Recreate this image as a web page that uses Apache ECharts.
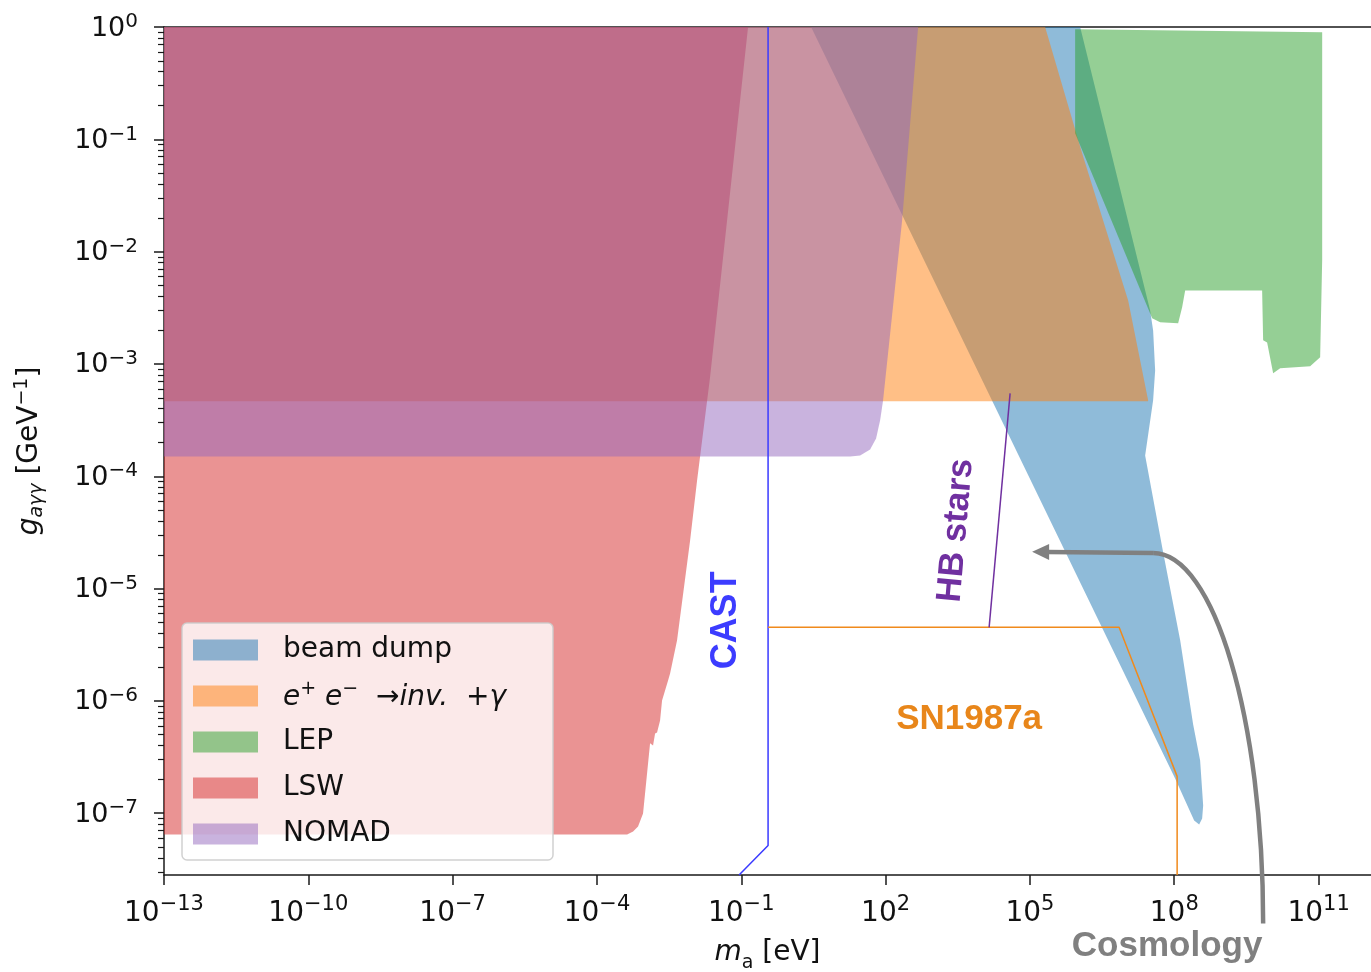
<!DOCTYPE html>
<html>
<head>
<meta charset="utf-8">
<script src="https://cdn.jsdelivr.net/npm/echarts@6/dist/echarts.min.js"></script>
<style>
html,body{margin:0;padding:0;background:#fff;}
#c{width:1371px;height:972px;}
</style>
</head>
<body>
<div id="c"></div>
<script>
// All values are log10: mass m_a in eV, coupling g in GeV^-1
const xTickExp = [-13, -10, -7, -4, -1, 2, 5, 8, 11];
const yTickExp = [-7, -6, -5, -4, -3, -2, -1, 0];
const yMinorMantissa = [2, 3, 4, 5, 6, 7, 8, 9];
const yMinorDecades = [-8, -7, -6, -5, -4, -3, -2, -1];

const beamDumpLogM = [0.451, 6.044, 7.499, 7.561, 7.603, 7.561, 7.395, 7.769, 8.123, 8.393, 8.538, 8.601, 8.58, 8.518, 8.414, 8.019];
const beamDumpLogG = [0, 0, -2.523, -2.703, -3.059, -3.324, -3.814, -4.677, -5.461, -6.209, -6.53, -6.931, -7.047, -7.1, -7.064, -6.69];

const eeLogM = [-13, 5.316, 6.085, 7.042, 7.457, 7.457, -13];
const eeLogG = [0, 0, -1.125, -2.434, -3.324, -3.333, -3.333];

const lepLogM = [5.94, 11.075, 11.075, 11.033, 10.825, 10.202, 10.056, 9.931, 9.848, 9.827, 8.227, 8.164, 8.081, 7.707, 7.541, 5.94];
const lepLogG = [-0.02, -0.047, -2.077, -2.941, -3.021, -3.039, -3.083, -2.808, -2.79, -2.345, -2.345, -2.496, -2.638, -2.629, -2.594, -0.947];

const lswLogM = [-13, -0.859, -1.649, -1.919, -2.064, -2.335, -2.48, -2.522, -2.647, -2.688, -2.751, -2.792, -2.834, -2.896, -2.938, -3.042, -3.146, -3.249, -3.374, -13];
const lswLogG = [0, 0, -3.119, -4.037, -4.571, -5.461, -5.755, -5.818, -5.996, -6.174, -6.281, -6.29, -6.396, -6.378, -6.557, -7.002, -7.118, -7.162, -7.189, -7.189];

const nomadLogM = [-13, 2.676, 2.343, 1.948, 1.886, 1.802, 1.678, 1.47, 1.262, -13];
const nomadLogG = [0, 0, -1.723, -3.324, -3.502, -3.663, -3.761, -3.814, -3.823, -3.823];

const castLogM = [-0.443, -0.443, -1.046];
const castLogG = [0, -7.287, -7.55];
const snLogM = [-0.443, 6.854, 8.06, 8.06];
const snLogG = [-5.345, -5.345, -6.672, -7.55];
const hbLogM = [4.588, 4.152];
const hbLogG = [-3.262, -5.345];
// Cosmology arrow: curved part (start, control 1, control 2, corner), straight run to the head, head tip
const cosmoCurveLogM = [9.848, 9.848, 8.83, 7.561];
const cosmoCurveLogG = [-7.981, -6.165, -4.684, -4.684];
const cosmoRunLogM = [7.561, 5.358];
const cosmoRunLogG = [-4.684, -4.675];
const cosmoTip = [5.046, -4.672];

const labelTexts = ['CAST', 'HB stars', 'SN1987a', 'Cosmology'];
const labelLogM = [-1.316, 3.466, 3.736, 7.852];
const labelLogG = [-5.283, -4.482, -6.165, -8.186];

const seriesNames = ['beam dump', 'e+e- -> inv. + gamma', 'LEP', 'LSW', 'NOMAD'];

// ---------- styling ----------
const X_MIN = -13, X_MAX = 12.09, Y_MIN = -7.55, Y_MAX = 0;
const FONT = 'DejaVu Sans';
const AFONT = 'Liberation Sans';
const INK = '#111';
const colors = ['rgba(31,119,180,0.5)', 'rgba(255,127,14,0.5)', 'rgba(44,160,44,0.5)', 'rgba(214,39,40,0.5)', 'rgba(148,103,189,0.5)'];
const labelStyles = [
  {color: '#3c3cff', size: 36, rot: 90},
  {color: '#7030a0', size: 35, rot: 85},
  {color: '#e8861a', size: 35, rot: 0},
  {color: '#808080', size: 35, rot: 0}
];

const yMinorTicks = [];
yMinorDecades.forEach(d => yMinorMantissa.forEach(k => {
  const v = d + Math.log10(k);
  if (v > Y_MIN && v < Y_MAX) yMinorTicks.push(v);
}));

function powLabel(v) {
  const e = Math.round(v);
  if (Math.abs(v - e) > 1e-6) return '';
  return '{b|10}{s|' + (e < 0 ? '\u2212' + (-e) : String(e)) + '}';
}

function regionSeries(name, color, xs, ys) {
  return {
    name: name, type: 'custom', coordinateSystem: 'cartesian2d',
    xAxisIndex: 0, yAxisIndex: 0, silent: true,
    itemStyle: {color: color},
    encode: {x: 0, y: 1},
    data: xs.map((x, i) => [x, ys[i]]),
    renderItem: function (params, api) {
      if (params.dataIndex !== 0) return null;
      const pts = xs.map((x, i) => api.coord([x, ys[i]]));
      return {type: 'polygon', shape: {points: pts}, style: {fill: color}};
    }
  };
}

function lineSeries(xs, ys, color, width) {
  return {
    type: 'line', xAxisIndex: 0, yAxisIndex: 0, silent: true, clip: false,
    symbol: 'none', data: xs.map((x, i) => [x, ys[i]]),
    lineStyle: {color: color, width: width}, z: 5
  };
}

const series = [
  regionSeries(seriesNames[0], colors[0], beamDumpLogM, beamDumpLogG),
  regionSeries(seriesNames[1], colors[1], eeLogM, eeLogG),
  regionSeries(seriesNames[2], colors[2], lepLogM, lepLogG),
  regionSeries(seriesNames[3], colors[3], lswLogM, lswLogG),
  regionSeries(seriesNames[4], colors[4], nomadLogM, nomadLogG),
  lineSeries(castLogM, castLogG, '#3a3aff', 1.5),
  lineSeries(snLogM, snLogG, '#f08a1c', 1.5),
  lineSeries(hbLogM, hbLogG, '#7030a0', 1.5),
  {
    type: 'custom', coordinateSystem: 'cartesian2d', silent: true, z: 6,
    encode: {x: 0, y: 1},
    data: cosmoCurveLogM.map((x, i) => [x, cosmoCurveLogG[i]]),
    renderItem: function (params, api) {
      if (params.dataIndex !== 0) return null;
      const c = cosmoCurveLogM.map((x, i) => api.coord([x, cosmoCurveLogG[i]]));
      const r = cosmoRunLogM.map((x, i) => api.coord([x, cosmoRunLogG[i]]));
      const tip = api.coord(cosmoTip);
      const base = r[r.length - 1];
      const stroke = {stroke: '#808080', lineWidth: 4.5, fill: null};
      return {
        type: 'group',
        children: [
          {type: 'bezierCurve', shape: {x1: c[0][0], y1: c[0][1], cpx1: c[1][0], cpy1: c[1][1],
                                         cpx2: c[2][0], cpy2: c[2][1], x2: c[3][0], y2: c[3][1]}, style: stroke},
          {type: 'polyline', shape: {points: r}, style: stroke},
          {type: 'polygon', shape: {points: [tip, [base[0] + 2, base[1] - 8], [base[0] + 2, base[1] + 8]]},
           style: {fill: '#808080'}}
        ]
      };
    }
  },
  {
    type: 'custom', coordinateSystem: 'cartesian2d', silent: true, z: 7,
    encode: {x: 0, y: 1},
    data: labelLogM.map((x, i) => [x, labelLogG[i]]),
    renderItem: function (params, api) {
      const i = params.dataIndex;
      const p = api.coord([api.value(0), api.value(1)]);
      const s = labelStyles[i];
      return {
        type: 'text', x: p[0], y: p[1], rotation: s.rot * Math.PI / 180,
        style: {text: labelTexts[i], fill: s.color, fontSize: s.size, fontWeight: 'bold',
                fontFamily: AFONT, align: 'center', verticalAlign: 'middle'}
      };
    }
  }
];

const option = {
  animation: false,
  backgroundColor: '#fff',
  grid: {left: 164, right: 0, top: 27, bottom: 97, containLabel: false, outerBoundsMode: 'none'},
  xAxis: [{
    type: 'value', min: X_MIN, max: X_MAX, interval: 3, position: 'bottom',
    axisLine: {show: true, onZero: false, lineStyle: {color: '#1a1a1a', width: 1.5}},
    axisTick: {show: true, length: 10, lineStyle: {color: '#1a1a1a', width: 1.5}, customValues: xTickExp},
    axisLabel: {
      customValues: xTickExp, margin: 19, formatter: powLabel,
      rich: {
        b: {fontSize: 28, fontFamily: FONT, color: INK, lineHeight: 34, verticalAlign: 'bottom'},
        s: {fontSize: 21, fontFamily: FONT, color: INK, lineHeight: 14, verticalAlign: 'top'}
      }
    },
    splitLine: {show: false},
    name: '{it|m}{sub|a}{n| [eV]}', nameLocation: 'middle', nameGap: 64,
    nameTextStyle: {
      rich: {
        it: {fontSize: 28, fontFamily: FONT, fontStyle: 'italic', color: INK, lineHeight: 34, verticalAlign: 'top'},
        sub: {fontSize: 19, fontFamily: FONT, color: INK, lineHeight: 10, verticalAlign: 'bottom'},
        n: {fontSize: 28, fontFamily: FONT, color: INK, lineHeight: 34, verticalAlign: 'top'}
      }
    }
  }, {
    type: 'value', min: X_MIN, max: X_MAX, position: 'top',
    axisLine: {show: true, onZero: false, lineStyle: {color: '#1a1a1a', width: 1.5}},
    axisTick: {show: false}, axisLabel: {show: false}, splitLine: {show: false}
  }],
  yAxis: [{
    type: 'value', min: Y_MIN, max: Y_MAX, splitNumber: 8, position: 'left',
    axisLine: {show: true, onZero: false, lineStyle: {color: '#1a1a1a', width: 1.5}},
    axisTick: {show: true, length: 10, lineStyle: {color: '#1a1a1a', width: 1.5}, customValues: yTickExp},
    axisLabel: {
      customValues: yTickExp, margin: 26, formatter: powLabel,
      rich: {
        b: {fontSize: 27, fontFamily: FONT, color: INK, lineHeight: 30, verticalAlign: 'bottom'},
        s: {fontSize: 20, fontFamily: FONT, color: INK, lineHeight: 14, verticalAlign: 'top'}
      }
    },
    splitLine: {show: false},
    name: '{it|g}{sub|a\u03b3\u03b3}{n| [GeV}{sup|\u22121}{n|]}', nameLocation: 'middle', nameGap: 117, nameRotate: 90,
    nameTextStyle: {
      rich: {
        it: {fontSize: 28, fontFamily: FONT, fontStyle: 'italic', color: INK, lineHeight: 34, verticalAlign: 'middle'},
        sub: {fontSize: 19, fontFamily: FONT, fontStyle: 'italic', color: INK, lineHeight: 10, verticalAlign: 'bottom'},
        sup: {fontSize: 19, fontFamily: FONT, color: INK, lineHeight: 10, verticalAlign: 'top'},
        n: {fontSize: 28, fontFamily: FONT, color: INK, lineHeight: 34, verticalAlign: 'middle'}
      }
    }
  }, {
    type: 'value', min: Y_MIN, max: Y_MAX, position: 'left',
    axisLine: {show: false, onZero: false},
    axisTick: {show: true, length: 6, lineStyle: {color: '#1a1a1a', width: 1.2}, customValues: yMinorTicks},
    axisLabel: {show: false}, splitLine: {show: false}
  }],
  legend: {
    show: true, orient: 'vertical', left: 182, top: 623,
    data: seriesNames, selectedMode: false, icon: 'rect',
    itemWidth: 65, itemHeight: 21, itemGap: 14,
    padding: [11, 15, 10, 11],
    backgroundColor: 'rgba(255,255,255,0.8)',
    borderColor: 'rgba(204,204,204,0.9)', borderWidth: 1.5, borderRadius: 5,
    formatter: function (name) {
      if (name === seriesNames[1]) {
        return '{it|e}{sup|+}{it| e}{sup|\u2212}{n|  \u2192}{it|inv.}{n|  +}{it|\u03b3}';
      }
      return name;
    },
    textStyle: {
      fontSize: 28, fontFamily: FONT, color: INK, lineHeight: 32, width: 255,
      padding: [0, 0, 0, 20],
      rich: {
        it: {fontSize: 28, fontFamily: FONT, fontStyle: 'italic', color: INK, lineHeight: 32, verticalAlign: 'bottom'},
        sup: {fontSize: 19, fontFamily: FONT, color: INK, lineHeight: 14, verticalAlign: 'top'},
        n: {fontSize: 28, fontFamily: FONT, color: INK, lineHeight: 32, verticalAlign: 'bottom'}
      }
    }
  },
  series: series
};

const chart = echarts.init(document.getElementById('c'), null, {renderer: 'canvas', width: 1371, height: 972});
chart.setOption(option);
</script>
</body>
</html>
